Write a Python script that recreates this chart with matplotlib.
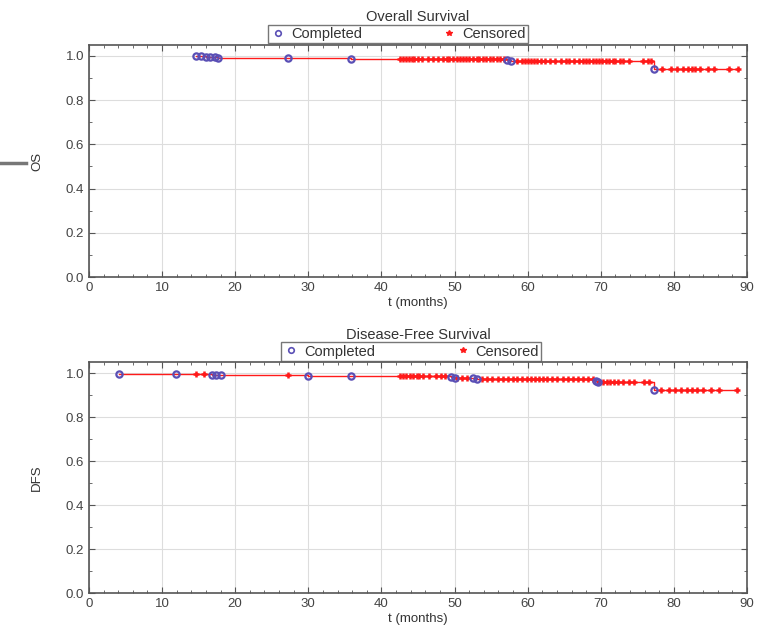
import numpy as np
import matplotlib
matplotlib.use("Agg")
import matplotlib.pyplot as plt
from matplotlib.ticker import MultipleLocator
from matplotlib.lines import Line2D

plt.rcParams['font.family'] = ['Liberation Sans', 'DejaVu Sans']

# overall survival: event ("completed") times and survival after each event
os_event_t = [14.6, 15.3, 16.0, 16.6, 17.2, 17.7, 27.2, 35.9, 57.2, 57.7, 77.3]
os_event_s = [0.999, 0.998, 0.997, 0.996, 0.995, 0.993, 0.990, 0.987, 0.982, 0.978, 0.942]
os_cens_t = [42.6, 43.0, 43.3, 43.8, 44.2, 44.5, 45.0, 45.6, 46.3, 47.0, 47.8, 48.4,
             48.9, 49.3, 49.8, 50.3, 50.7, 51.2, 51.6, 52.0, 52.5, 53.0, 53.4, 53.9,
             54.3, 54.8, 55.3, 55.8, 56.2, 56.7, 58.6, 59.2, 59.7, 60.1, 60.5, 60.9,
             61.3, 61.8, 62.3, 63.0, 63.8, 64.5, 65.2, 65.6, 66.4, 67.0, 67.5, 68.0,
             68.4, 68.9, 69.3, 69.8, 70.2, 70.7, 71.1, 71.6, 72.0, 72.6, 73.1, 73.8,
             75.8, 76.4, 76.9, 78.3, 79.6, 80.4, 81.3, 81.9, 82.5, 82.9, 83.5, 84.6,
             85.5, 87.5, 88.7]

# disease-free survival
dfs_event_t = [4.1, 11.9, 16.8, 17.4, 18.0, 29.9, 35.9, 49.5, 50.0, 52.5, 53.0, 69.3, 69.6, 77.3]
dfs_event_s = [0.997, 0.994, 0.992, 0.991, 0.990, 0.988, 0.986, 0.982, 0.979, 0.976,
               0.972, 0.965, 0.958, 0.923]
dfs_cens_t = [14.7, 15.7, 27.2, 42.5, 43.0, 43.4, 43.9, 44.3, 44.8, 45.2, 45.7, 46.5,
              47.5, 48.2, 48.7, 50.4, 51.0, 51.7, 53.8, 54.4, 55.1, 55.9, 56.6, 57.3,
              58.0, 58.6, 59.2, 59.9, 60.5, 61.0, 61.6, 62.1, 62.7, 63.3, 64.0, 64.8,
              65.5, 66.2, 66.9, 67.5, 68.3, 68.9, 69.8, 70.3, 70.8, 71.3, 71.8, 72.4,
              73.0, 73.8, 74.5, 75.9, 76.6, 78.2, 79.3, 80.1, 81.0, 81.8, 82.4, 83.1,
              84.0, 85.0, 86.2, 88.6]

panels = [
    ("Overall Survival", "OS", os_event_t, os_event_s, os_cens_t, 0.47),
    ("Disease-Free Survival", "DFS", dfs_event_t, dfs_event_s, dfs_cens_t, 0.49),
]

fig = plt.figure(figsize=(7.6, 6.29), dpi=100)
rects = [[0.117, 0.5596, 0.866, 0.369], [0.117, 0.0572, 0.866, 0.367]]

blue = '#5a4fb5'
red = '#ff1a1a'
gray = '#555555'

for rect, (title, ylab, et, es, ct, legx) in zip(rects, panels):
    ax = fig.add_axes(rect)
    et = np.array(et)
    es = np.array(es)
    ct = np.array(ct)
    # survival level at each censoring time (last event before it)
    idx = np.searchsorted(et, ct, side='right') - 1
    cs = np.where(idx >= 0, es[np.clip(idx, 0, None)], 1.0)

    lt = np.append(et, ct.max())
    ls = np.append(es, es[-1])
    ax.plot(lt, ls, drawstyle='steps-post', color=red, lw=1.0, zorder=2)
    ax.plot(ct, cs, linestyle='none', marker='+', ms=4.5, mew=1.8, color=red, zorder=3)
    ax.plot(et, es, linestyle='none', marker='o', ms=4.5, mfc='none', mew=1.6,
            mec=blue, zorder=4)

    ax.set_xlim(0, 90)
    ax.set_ylim(0, 1.05)
    ax.xaxis.set_major_locator(MultipleLocator(10))
    ax.xaxis.set_minor_locator(MultipleLocator(2))
    ax.yaxis.set_major_locator(MultipleLocator(0.2))
    ax.yaxis.set_minor_locator(MultipleLocator(0.1))
    ax.yaxis.set_major_formatter(matplotlib.ticker.FormatStrFormatter('%.1f'))
    ax.grid(True, which='major', color='#dddddd', lw=0.8)
    ax.set_axisbelow(True)
    ax.tick_params(which='both', direction='in', top=True, right=True, colors=gray,
                   labelcolor='#444444', labelsize=9.5)
    ax.tick_params(which='major', length=4)
    ax.tick_params(which='minor', length=2)
    for sp in ax.spines.values():
        sp.set_color(gray)
        sp.set_linewidth(1.2)
    ax.set_xlabel("t (months)", fontsize=9.5, color='#333333', labelpad=2)
    ax.set_ylabel(ylab, fontsize=9.5, color='#333333', labelpad=16)
    ax.set_title(title, fontsize=10.5, color='#333333', pad=17)

    handles = [
        Line2D([], [], linestyle='none', marker='o', ms=4, mfc='none', mew=1.2, mec=blue),
        Line2D([], [], linestyle='none', marker='*', ms=4, color=red),
    ]
    leg = ax.legend(handles, ["Completed", "Censored"], ncol=2, loc='lower center',
                    bbox_to_anchor=(legx, 1.0), fontsize=10.5, frameon=True,
                    fancybox=False, edgecolor=gray, borderpad=0.15, handletextpad=0.4,
                    columnspacing=5.5, handlelength=1.0, borderaxespad=0.1,
                    labelcolor='#333333')
    leg.get_frame().set_linewidth(1.0)

# grey mark left of the OS label in the original image
fig.add_artist(Line2D([0.0, 0.034], [0.741, 0.741], color='#777777', lw=2.5))

fig.savefig("out.png", dpi=100)
